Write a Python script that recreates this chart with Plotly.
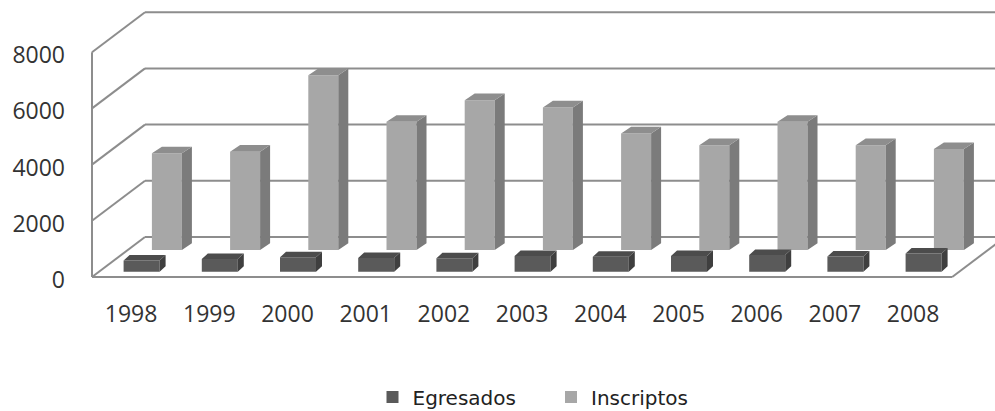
import plotly.graph_objects as go

# ---------------- data ----------------
years = ["1998", "1999", "2000", "2001", "2002", "2003", "2004", "2005", "2006", "2007", "2008"]
egresados = [400, 450, 510, 490, 475, 555, 530, 560, 590, 540, 645]
inscriptos = [3440, 3500, 6220, 4560, 5330, 5070, 4150, 3730, 4560, 3730, 3590]
y_ticks = [0, 2000, 4000, 6000, 8000]

# ---------------- geometry (pixel style constants) ----------------
W, H = 995, 411
PX_PER_CAT = 78.2          # horizontal pixels per category
PX_PER_VAL = 0.0281        # vertical pixels per unit of value
FRONT_LEFT_PX = 92         # x pixel of the front-left corner of the floor
FRONT_ZERO_PX = 277        # y pixel of value 0 on the front plane
WALL_DX_PX, WALL_DY_PX = 53, 40   # oblique depth of the whole box
L_MARGIN, B_MARGIN = 70, 113

def cx(px):   # pixel distance -> category units
    return px / PX_PER_CAT

def vy(px):   # pixel distance -> value units
    return px / PX_PER_VAL

x_lo = -0.5 + cx(L_MARGIN - FRONT_LEFT_PX)
x_hi = -0.5 + cx(W - FRONT_LEFT_PX)
plot_h = H - B_MARGIN
y_hi = vy(FRONT_ZERO_PX)
y_lo = vy(FRONT_ZERO_PX - plot_h)

wall_dx = cx(WALL_DX_PX)
wall_dy = vy(WALL_DY_PX)
n = len(years)
cats = list(range(n))

series = [
    dict(name="Inscriptos", vals=inscriptos, shift=35.8, lift=27, width=30, ddx=10, ddy=6.7,
         front="#a7a7a7", side="#7b7b7b", top="#8e8e8e", rank=2),
    dict(name="Egresados", vals=egresados, shift=10.5, lift=5.3, width=36, ddx=6, ddy=5.5,
         front="#5a5a5a", side="#3f3f3f", top="#4c4c4c", rank=1),
]

fig = go.Figure()

for s in series:
    base = vy(s["lift"])
    half = cx(s["width"]) / 2
    ddx, ddy = cx(s["ddx"]), vy(s["ddy"])
    xs_c = [c + cx(s["shift"]) for c in cats]
    sx, sy, tx, ty = [], [], [], []
    for xc, v in zip(xs_c, s["vals"]):
        xr, xl = xc + half, xc - half
        top = base + v
        sx += [xr, xr + ddx, xr + ddx, xr, xr, None]
        sy += [base, base + ddy, top + ddy, top, base, None]
        tx += [xl, xr, xr + ddx, xl + ddx, xl, None]
        ty += [top, top, top + ddy, top + ddy, top, None]
    fig.add_trace(go.Scatter(x=sx, y=sy, fill="toself", fillcolor=s["side"], mode="lines",
                             line=dict(width=0, color=s["side"]), showlegend=False, hoverinfo="skip"))
    fig.add_trace(go.Scatter(x=tx, y=ty, fill="toself", fillcolor=s["top"], mode="lines",
                             line=dict(width=0, color=s["top"]), showlegend=False, hoverinfo="skip"))
    fig.add_trace(go.Bar(x=xs_c, y=s["vals"], base=[base] * n, width=2 * half,
                         marker=dict(color=s["front"], line=dict(width=0)),
                         name=s["name"], legendrank=s["rank"],
                         customdata=years, hovertemplate="%{customdata}: %{y}<extra>" + s["name"] + "</extra>"))

# walls / gridlines
LINE = dict(color="#8d8d8d", width=2)
shapes = []
for t in y_ticks:
    shapes.append(dict(type="line", xref="x", yref="y", x0=-0.5 + wall_dx, y0=t + wall_dy,
                       x1=x_hi + 1, y1=t + wall_dy, line=LINE, layer="below"))
    shapes.append(dict(type="line", xref="x", yref="y", x0=-0.5, y0=t,
                       x1=-0.5 + wall_dx, y1=t + wall_dy, line=LINE, layer="below"))
shapes.append(dict(type="line", xref="x", yref="y", x0=-0.5, y0=0, x1=-0.5, y1=y_ticks[-1],
                   line=LINE, layer="below"))
shapes.append(dict(type="line", xref="x", yref="y", x0=-0.5, y0=0, x1=n - 0.5, y1=0,
                   line=LINE, layer="below"))
shapes.append(dict(type="line", xref="x", yref="y", x0=n - 0.5, y0=0, x1=n - 0.5 + wall_dx, y1=wall_dy,
                   line=LINE, layer="below"))

TICKFONT = dict(family="Open Sans", size=23, color="#333333")
fig.update_layout(
    width=W, height=H, autosize=False,
    margin=dict(l=L_MARGIN, r=0, t=0, b=B_MARGIN, autoexpand=False),
    paper_bgcolor="white", plot_bgcolor="white",
    barmode="overlay",
    shapes=shapes,
    xaxis=dict(range=[x_lo, x_hi], tickvals=cats, ticktext=years, showgrid=False, zeroline=False,
               showline=False, ticks="", tickfont=TICKFONT, fixedrange=True, automargin=False),
    yaxis=dict(range=[y_lo, y_hi], tickvals=y_ticks, showgrid=False, zeroline=False, showline=False,
               ticks="", tickfont=TICKFONT, ticklabelstandoff=4, ticklabelshift=3,
               fixedrange=True, automargin=False),
    legend=dict(orientation="h", xref="container", yref="container",
                x=372.5 / W, xanchor="left", y=(H - 397) / H, yanchor="middle",
                entrywidth=133.5, entrywidthmode="pixels",
                font=dict(family="DejaVu Sans", size=20, color="#222222"), bgcolor="rgba(0,0,0,0)"),
    showlegend=True,
)

fig.write_html("out.html", config={"displayModeBar": False},
               post_script="document.body.style.margin='0px';document.body.style.overflow='hidden';")
